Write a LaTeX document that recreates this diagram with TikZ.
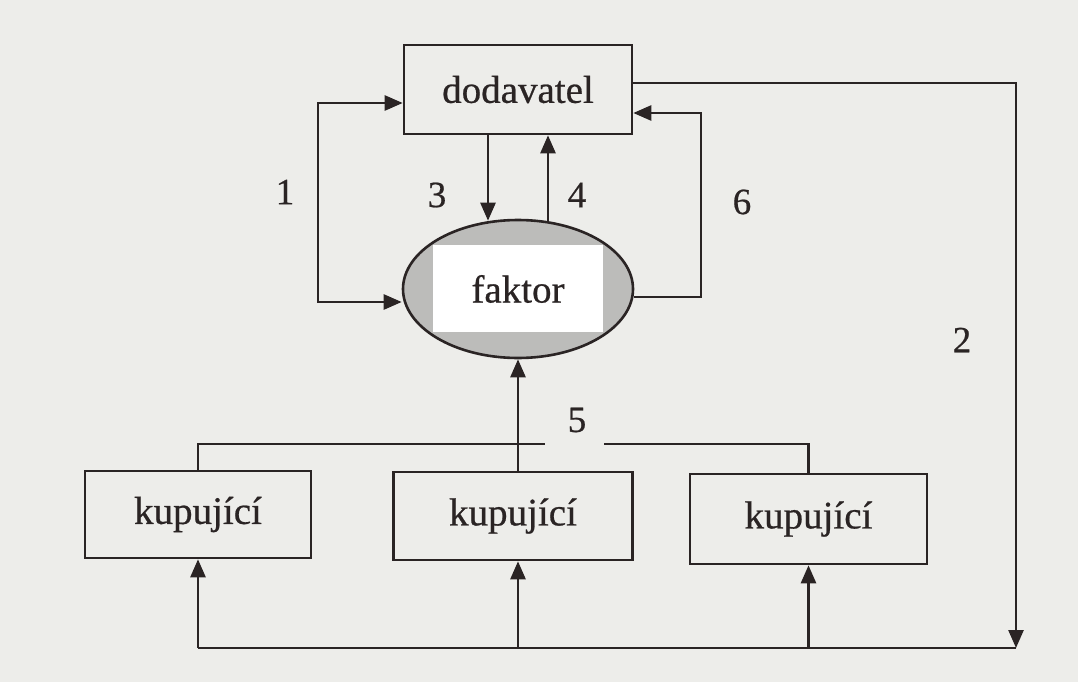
\documentclass[tikz,border=0pt]{standalone}
\usepackage{fontspec}
\setmainfont[FakeBold=0.6]{Liberation Serif}
\usetikzlibrary{arrows.meta,calc,shapes.geometric}
\definecolor{paper}{RGB}{237,237,234}
\definecolor{ink}{RGB}{42,36,36}
\definecolor{shade}{RGB}{188,188,186}
\tikzset{
  ln/.style={draw=ink, line width=2.6pt},
  arr/.style={ln, -{Triangle[length=18pt,width=15pt]}},
  box/.style={draw=ink, line width=2.6pt, rectangle, inner sep=0pt, font=\fontsize{39}{41}\selectfont, text=ink},
  num/.style={font=\fontsize{37}{39}\selectfont, text=ink},
}
\begin{document}
\begin{tikzpicture}[x=1pt,y=-1pt]
\fill[paper] (0,0) rectangle (1078,682);
\useasboundingbox (0,0) rectangle (1078,682);

% nodes
\node[box, minimum width=228pt, minimum height=89pt] (dod) at (518,89.5) {dodavatel};
\node[draw=ink, line width=2.6pt, ellipse, fill=shade, minimum width=230pt, minimum height=138pt, inner sep=0pt] (fak) at (518,289) {};
\fill[white] (433,245) rectangle (603,332);
\node[text=ink, font=\fontsize{39}{41}\selectfont] (faklbl) at (fak.center) {faktor};
\node[box, minimum width=226pt, minimum height=87pt] (k1) at (198,514.5) {kupující};
\node[box, minimum width=239pt, minimum height=88pt] (k2) at (513,516) {kupující};
\node[box, minimum width=237pt, minimum height=90pt] (k3) at (808.5,519) {kupující};

% helper coordinates
\coordinate (x3) at (488,0);
\coordinate (x4) at (548,0);
\coordinate (x2) at (1016,0);
\coordinate (ybot) at (0,648);
\coordinate (y5) at (0,444);
\coordinate (g1) at (545,444);
\coordinate (g2) at (604,444);

% 1
\coordinate (c1t) at (318,103);
\coordinate (c1b) at (318,302);
\draw[arr] (c1b) -- (c1t) -- (c1t -| dod.west);
\draw[arr] (c1t) -- (c1b) -- (c1b -| fak.west);
% 2
\coordinate (c2t) at (1016,83);
\draw[arr] (c2t -| dod.east) -- (c2t) -- (x2 |- ybot);
\draw[ln] (x2 |- ybot) -- (k1.south |- ybot);
\draw[arr] (k1.south |- ybot) -- (k1.south);
\draw[arr] (fak.south |- ybot) -- (fak.south |- k2.south);
\draw[arr] (k3.south |- ybot) -- (k3.south);
% 3 and 4
\draw[arr] (dod.south -| x3) -- ($(fak.north -| x3)+(0,2)$);
\draw[arr] ($(fak.north -| x4)+(0,2)$) -- (dod.south -| x4);
% 6
\coordinate (c6t) at (701,113);
\coordinate (c6b) at (701,297);
\draw[arr] (c6b -| fak.east) -- (c6b) -- (c6t) -- (c6t -| dod.east);
% 5
\draw[arr] (fak.south |- k2.north) -- (fak.south);
\draw[ln] (k1.north) -- (k1.north |- y5) -- (g1);
\draw[ln] (g2) -- (k3.north |- y5) -- (k3.north);

% labels
\node[num] (l1) at (285,192) {1};
\node[num] (l2) at (962,340) {2};
\node[num] (l3) at (437,195) {3};
\node[num] (l4) at (577,195) {4};
\node[num] (l5) at (577,420) {5};
\node[num] (l6) at (742,202) {6};
\end{tikzpicture}
\end{document}
